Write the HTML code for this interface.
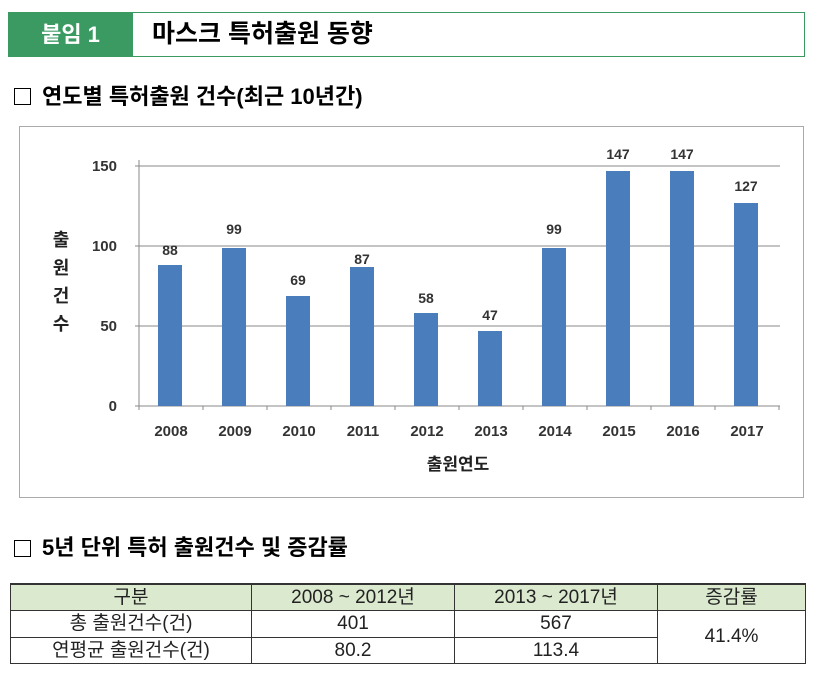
<!DOCTYPE html>
<html><head><meta charset="utf-8"><style>
body{margin:0;width:815px;height:680px;background:#fff;overflow:hidden;font-family:"Liberation Sans","Noto Sans CJK KR",sans-serif;}
.a{position:absolute}
td{padding:0;line-height:24px;border:1px solid #333;}
</style></head><body>
<div class="a" style="left:8px;top:12px;width:125px;height:45px;background:#3a9a62;color:#fff;font-size:22px;font-weight:bold;line-height:45px;text-align:center;">붙임 1</div>
<div class="a" style="left:133px;top:12px;width:671px;height:43px;border:1px solid #3a9a62;border-left:none;"></div>
<div class="a" style="left:152px;top:12px;height:45px;line-height:45px;font-size:25px;font-weight:bold;color:#000;">마스크 특허출원 동향</div>
<div class="a" style="left:14px;top:88px;width:15px;height:15px;border:1.5px solid #000;"></div>
<div class="a" style="left:42px;top:82px;line-height:30px;font-size:22px;font-weight:bold;">연도별 특허출원 건수(최근 10년간)</div>
<div class="a" style="left:19px;top:126px;width:783px;height:370px;border:1px solid #aaa;"></div>
<svg class="a" style="left:0;top:0" width="815" height="520" font-family="Liberation Sans, Noto Sans CJK KR, sans-serif">
<g stroke="#888" stroke-width="1">
<line x1="135" y1="166" x2="780" y2="166"/><line x1="135" y1="246" x2="780" y2="246"/><line x1="135" y1="326" x2="780" y2="326"/>
<line x1="139" y1="160" x2="139" y2="410"/><line x1="135" y1="406" x2="780" y2="406"/>
<line x1="203" y1="406" x2="203" y2="410"/><line x1="267" y1="406" x2="267" y2="410"/><line x1="331" y1="406" x2="331" y2="410"/><line x1="395" y1="406" x2="395" y2="410"/><line x1="459" y1="406" x2="459" y2="410"/><line x1="523" y1="406" x2="523" y2="410"/><line x1="587" y1="406" x2="587" y2="410"/><line x1="651" y1="406" x2="651" y2="410"/><line x1="715" y1="406" x2="715" y2="410"/><line x1="779" y1="406" x2="779" y2="410"/>
</g>
<g font-size="15" font-weight="bold" fill="#333" text-anchor="end">
<text x="117" y="171">150</text><text x="117" y="251">100</text><text x="117" y="331">50</text><text x="117" y="411">0</text>
</g>
<g font-size="18" font-weight="bold" fill="#222" text-anchor="middle">
<text x="61" y="246">출</text><text x="61" y="274">원</text><text x="61" y="302">건</text><text x="61" y="330">수</text>
<text x="458" y="470" font-size="17">출원연도</text>
</g>
<g fill="#4a7dbb">
<rect x="158" y="265" width="24" height="141"/><rect x="222" y="248" width="24" height="158"/><rect x="286" y="296" width="24" height="110"/><rect x="350" y="267" width="24" height="139"/><rect x="414" y="313" width="24" height="93"/><rect x="478" y="331" width="24" height="75"/><rect x="542" y="248" width="24" height="158"/><rect x="606" y="171" width="24" height="235"/><rect x="670" y="171" width="24" height="235"/><rect x="734" y="203" width="24" height="203"/>
</g>
<g font-size="14" font-weight="bold" fill="#333" text-anchor="middle">
<text x="170" y="255">88</text><text x="234" y="234">99</text><text x="298" y="285">69</text><text x="362" y="264">87</text><text x="426" y="303">58</text><text x="490" y="320">47</text><text x="554" y="234">99</text><text x="618" y="159">147</text><text x="682" y="159">147</text><text x="746" y="191">127</text>
</g>
<g font-size="15" font-weight="bold" fill="#333" text-anchor="middle">
<text x="171" y="436">2008</text><text x="235" y="436">2009</text><text x="299" y="436">2010</text><text x="363" y="436">2011</text><text x="427" y="436">2012</text><text x="491" y="436">2013</text><text x="555" y="436">2014</text><text x="619" y="436">2015</text><text x="683" y="436">2016</text><text x="747" y="436">2017</text>
</g>
</svg>
<div class="a" style="left:14px;top:540px;width:15px;height:15px;border:1.5px solid #000;"></div>
<div class="a" style="left:42px;top:533px;line-height:30px;font-size:22px;font-weight:bold;">5년 단위 특허 출원건수 및 증감률</div>
<table class="a" style="left:10px;top:583px;width:796px;border-collapse:collapse;font-size:19px;text-align:center;color:#222;">
<tr style="background:#dbe9cf"><td style="border-top:2px solid #333;width:240px;line-height:25px">구분</td><td style="border-top:2px solid #333;width:202px;line-height:25px">2008 ~ 2012년</td><td style="border-top:2px solid #333;width:202px;line-height:25px">2013 ~ 2017년</td><td style="border-top:2px solid #333;line-height:25px">증감률</td></tr>
<tr><td style="line-height:26px">총 출원건수(건)</td><td style="line-height:26px">401</td><td style="line-height:26px">567</td><td rowspan="2">41.4%</td></tr>
<tr><td style="line-height:25px">연평균 출원건수(건)</td><td style="line-height:25px">80.2</td><td style="line-height:25px">113.4</td></tr>
</table>
</body></html>
